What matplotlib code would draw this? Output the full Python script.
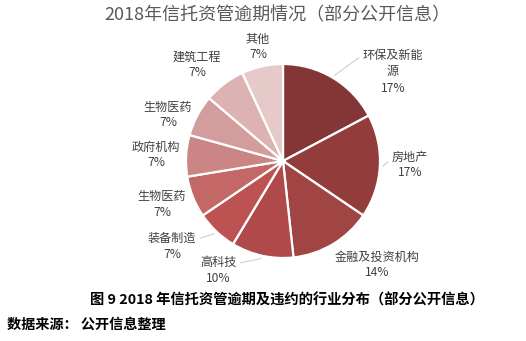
import numpy as np
import matplotlib
matplotlib.use("Agg")
import matplotlib.pyplot as plt

plt.rcParams['font.family'] = ['Noto Sans CJK SC', 'DejaVu Sans']

# data (counts of projects, read as shares of the pie)
names = ['环保及新能\n源', '房地产', '金融及投资机构', '高科技', '装备制造',
         '生物医药', '政府机构', '生物医药', '建筑工程', '其他']
counts = [5, 5, 4, 3, 2, 2, 2, 2, 2, 2]
colors = ['#843535', '#933c3c', '#a04444', '#b04949', '#bd5252',
          '#c46767', '#cc8585', '#d49d9d', '#dcb2b2', '#e6caca']

# label centres in pixels (layout only)
label_px = [(393, 72), (410, 165), (377, 265), (218, 270), (172, 246),
            (162, 204), (156, 155), (168, 115), (197, 65), (258, 47)]
leader = {0: (0.0, 0.88), 1: (0.0, 0.72), 3: (1.0, 0.72), 4: (1.0, 0.72)}

W, H = 526, 341
cx, cy, r = 283, 161, 97

fig = plt.figure(figsize=(W / 100, H / 100), dpi=100)
ax = fig.add_axes([(cx - r) / W, (H - cy - r) / H, 2 * r / W, 2 * r / H])
wedges, _ = ax.pie(counts, colors=colors, startangle=90, counterclock=False,
                   radius=1, wedgeprops=dict(edgecolor='white', linewidth=1.6))
ax.set_xlim(-1, 1)
ax.set_ylim(-1, 1)
ax.set_aspect('equal')
ax.axis('off')

total = sum(counts)
for i, (w, name, v) in enumerate(zip(wedges, names, counts)):
    px, py = label_px[i]
    tx, ty = (px - cx) / r, (cy - py) / r
    txt = f"{name}\n{v / total * 100:.0f}%"
    if i in leader:
        ang = np.deg2rad((w.theta1 + w.theta2) / 2)
        ex, ey = 1.03 * np.cos(ang), 1.03 * np.sin(ang)
        ax.annotate(txt, xy=(ex, ey), xytext=(tx, ty), ha='center', va='center',
                    fontsize=8.7, color='#404040', linespacing=1.3,
                    annotation_clip=False,
                    arrowprops=dict(arrowstyle='-', color='#c8c8c8', lw=0.7,
                                    relpos=leader[i], shrinkA=1, shrinkB=0))
    else:
        ax.text(tx, ty, txt, ha='center', va='center', fontsize=8.7,
                color='#404040', linespacing=1.3)

fig.text(277 / W, 1 - 15 / H, '2018年信托资管逾期情况（部分公开信息）',
         ha='center', va='center', fontsize=13, color='#595959')
fig.text(287 / W, 1 - 300 / H, '图 9 2018 年信托资管逾期及违约的行业分布（部分公开信息）',
         ha='center', va='center', fontsize=10.3, color='black', fontweight='bold')
fig.text(7 / W, 1 - 325 / H, '数据来源： 公开信息整理',
         ha='left', va='center', fontsize=10.2, color='black', fontweight='bold')

fig.savefig('out.png', dpi=100)
